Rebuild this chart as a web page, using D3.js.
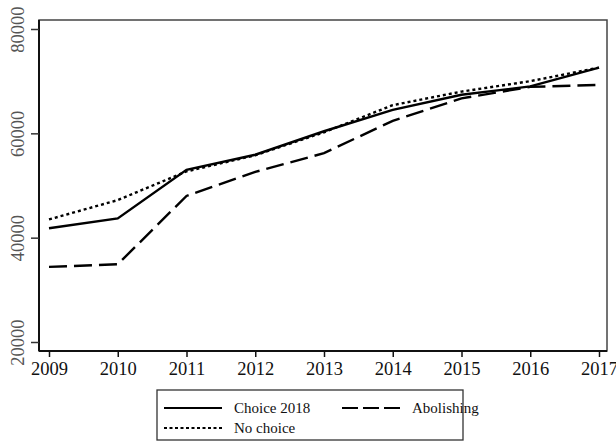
<!DOCTYPE html>
<html>
<head>
<meta charset="utf-8">
<script src="https://cdn.jsdelivr.net/npm/d3@7"></script>
<style>
  body { margin: 0; background: #fff; }
  svg { display: block; }
  svg text { font-family: "Liberation Serif", "Times New Roman", serif; }
</style>
</head>
<body>
<div id="chart"></div>
<script>
// data
const years = [2009, 2010, 2011, 2012, 2013, 2014, 2015, 2016, 2017];
const choice2018 = [41800, 43700, 53000, 55900, 60400, 64500, 67400, 69000, 72600];
const noChoice   = [43500, 47200, 52700, 55800, 60200, 65400, 68000, 70000, 72600];
const abolishing = [34400, 34900, 48000, 52600, 56200, 62400, 66700, 68900, 69300];
const yTicks = [20000, 40000, 60000, 80000];

const width = 616, height = 442;
const svg = d3.select("#chart").append("svg")
    .attr("width", width)
    .attr("height", height);

const x = d3.scaleLinear().domain([2009, 2017]).range([49, 599]);
const y = d3.scaleLinear().domain([20000, 80000]).range([342, 29]);

// plot frame
const frame = { left: 39, top: 20, right: 607, bottom: 351 };
svg.append("rect")
    .attr("x", frame.left).attr("y", frame.top)
    .attr("width", frame.right - frame.left)
    .attr("height", frame.bottom - frame.top)
    .attr("fill", "none")
    .attr("stroke", "#444")
    .attr("stroke-width", 1.5);

// x axis
const xAxis = svg.append("g")
    .attr("transform", `translate(0,${frame.bottom})`)
    .call(d3.axisBottom(x).tickValues(years).tickFormat(d3.format("d")).tickSize(6).tickPadding(5).tickSizeOuter(0));
xAxis.attr("font-family", null);
xAxis.select(".domain").attr("d", `M${frame.left},0H${frame.right}`).attr("stroke", "#111").attr("stroke-width", 2);
xAxis.selectAll(".tick line").attr("stroke", "#111").attr("stroke-width", 1.5);
xAxis.selectAll("text")
    .attr("font-size", 18.5)
    .attr("fill", "#111");

// y axis
const yAxis = svg.append("g")
    .attr("transform", `translate(${frame.left},0)`)
    .call(d3.axisLeft(y).tickValues(yTicks).tickFormat(d3.format("d")).tickSize(8).tickSizeOuter(0));
yAxis.attr("font-family", null);
yAxis.select(".domain").attr("d", `M0,${frame.top}V${frame.bottom}`).attr("stroke", "#111").attr("stroke-width", 2);
yAxis.selectAll(".tick line").attr("stroke", "#333").attr("stroke-width", 1.5);
yAxis.selectAll("text")
    .attr("font-size", 18.5)
    .attr("fill", "#555")
    .attr("text-anchor", "middle")
    .attr("x", 0).attr("y", 0).attr("dy", "0.35em")
    .attr("transform", "translate(-21,0) rotate(-90)");

// lines
const series = [
  { name: "Choice 2018", values: choice2018, dash: null },
  { name: "Abolishing", values: abolishing, dash: "18,7" },
  { name: "No choice", values: noChoice, dash: "3,3" }
];

const line = d3.line()
    .x((d, i) => x(years[i]))
    .y(d => y(d));

svg.append("g").selectAll("path")
    .data(series)
    .enter().append("path")
    .attr("d", d => line(d.values))
    .attr("fill", "none")
    .attr("stroke", "#000")
    .attr("stroke-width", 2.4)
    .attr("stroke-dasharray", d => d.dash);

// legend
const legend = svg.append("g");
legend.append("rect")
    .attr("x", 157).attr("y", 390)
    .attr("width", 306).attr("height", 50)
    .attr("fill", "#fff")
    .attr("stroke", "#333")
    .attr("stroke-width", 1.3);

const legendItems = [
  { s: series[0], lx: 164, ly: 408 },
  { s: series[1], lx: 342, ly: 408 },
  { s: series[2], lx: 164, ly: 428 }
];
const leg = legend.selectAll("g.item")
    .data(legendItems)
    .enter().append("g").attr("class", "item");
leg.append("line")
    .attr("x1", d => d.lx).attr("x2", d => d.lx + 58)
    .attr("y1", d => d.ly).attr("y2", d => d.ly)
    .attr("stroke", "#000")
    .attr("stroke-width", 2)
    .attr("stroke-dasharray", d => d.s.dash === "18,7" ? "16,5" : (d.s.dash ? "3,2.5" : null));
leg.append("text")
    .attr("x", d => d.lx + 70)
    .attr("y", d => d.ly + 5)
    .attr("font-size", 15)
    .attr("fill", "#111")
    .text(d => d.s.name);
</script>
</body>
</html>
